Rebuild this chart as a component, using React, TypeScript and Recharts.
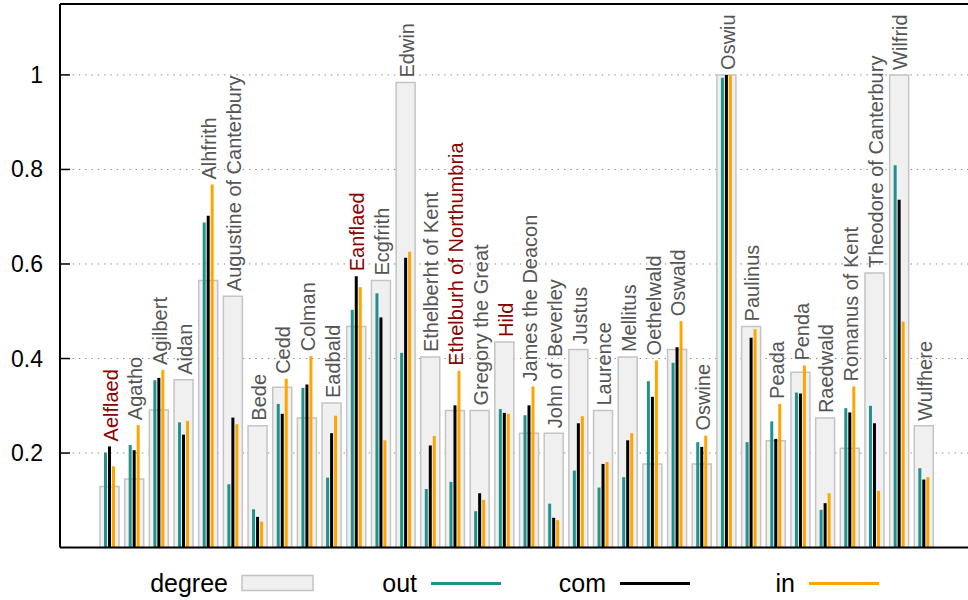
import React from 'react';
import { BarChart, Bar, XAxis, YAxis, CartesianGrid, Legend, LabelList } from 'recharts';

// Network members and their normalised centrality scores
const names = [
  'Aelflaed', 'Agatho', 'Agilbert', 'Aidan', 'Alhfrith', 'Augustine of Canterbury',
  'Bede', 'Cedd', 'Colman', 'Eadbald', 'Eanflaed', 'Ecgfrith', 'Edwin',
  'Ethelberht of Kent', 'Ethelburh of Northumbria', 'Gregory the Great', 'Hild',
  'James the Deacon', 'John of Beverley', 'Justus', 'Laurence', 'Mellitus',
  'Oethelwald', 'Oswald', 'Oswine', 'Oswiu', 'Paulinus', 'Peada', 'Penda',
  'Raedwald', 'Romanus of Kent', 'Theodore of Canterbury', 'Wilfrid', 'Wulfhere',
];

const degreeValues = [
  0.129, 0.145, 0.291, 0.355, 0.565, 0.532, 0.258, 0.339, 0.274, 0.306, 0.468, 0.565, 0.984,
  0.403, 0.290, 0.290, 0.435, 0.242, 0.242, 0.419, 0.290, 0.403, 0.177, 0.419, 0.177, 1.0,
  0.468, 0.226, 0.371, 0.274, 0.210, 0.581, 1.0, 0.258,
];

const outValues = [
  0.201, 0.217, 0.354, 0.265, 0.688, 0.134, 0.081, 0.304, 0.338, 0.148, 0.503, 0.538, 0.412,
  0.124, 0.139, 0.077, 0.293, 0.280, 0.093, 0.163, 0.127, 0.149, 0.352, 0.391, 0.223, 0.994,
  0.223, 0.267, 0.328, 0.080, 0.295, 0.300, 0.809, 0.168,
];

const comValues = [
  0.214, 0.206, 0.359, 0.239, 0.702, 0.275, 0.065, 0.283, 0.345, 0.242, 0.574, 0.487, 0.613,
  0.216, 0.301, 0.115, 0.285, 0.301, 0.063, 0.263, 0.177, 0.227, 0.319, 0.424, 0.213, 1.0,
  0.444, 0.230, 0.326, 0.094, 0.286, 0.263, 0.736, 0.144,
];

const inValues = [
  0.172, 0.259, 0.376, 0.268, 0.768, 0.261, 0.055, 0.357, 0.405, 0.279, 0.551, 0.227, 0.626,
  0.236, 0.374, 0.101, 0.283, 0.341, 0.058, 0.278, 0.181, 0.242, 0.396, 0.479, 0.237, 1.0,
  0.462, 0.304, 0.385, 0.115, 0.341, 0.120, 0.478, 0.149,
];

const highlightedNames = ['Aelflaed', 'Eanflaed', 'Ethelburh of Northumbria', 'Hild'];
const yTicks = [0.2, 0.4, 0.6, 0.8, 1];
const Y_MAX = 1.15;

const FONT = '"Liberation Sans", Arial, Helvetica, sans-serif';
const TEAL = '#20928b';
const ORANGE = '#ffa500';
const BOX_FILL = '#f0f0f0';
const BOX_STROKE = '#c4c4c4';
const LABEL_GRAY = '#555555';
const LABEL_RED = '#8b0000';

const rows = names.map((name, i) => ({
  name,
  degree: degreeValues[i],
  out: outValues[i],
  com: comValues[i],
  in: inValues[i],
  peak: Math.max(degreeValues[i], outValues[i], comValues[i], inValues[i]),
}));

const bandPadding = { left: 37, right: 37 };
const frameLine = { stroke: '#000', strokeWidth: 2 };

const LeftTick = (props: any) => {
  const { x, y, payload } = props;
  const ax = Number(x) + 17;
  const v = payload.value;
  return (
    <g>
      <line x1={ax} x2={ax + 10} y1={y} y2={y} stroke="#000" strokeWidth={1.5} />
      <text x={x} y={y} dy="0.35em" textAnchor="end" fontSize={23} fontFamily={FONT} fill="#000">
        {v === 1 ? '1' : String(v)}
      </text>
    </g>
  );
};

const RightTick = (props: any) => {
  const { x, y } = props;
  return <line x1={Number(x) - 10} x2={Number(x)} y1={y} y2={y} stroke="#000" strokeWidth={1.5} />;
};

const renderName = (props: any) => {
  const { x, y, width, value } = props;
  const cx = Number(x) + Number(width) / 2;
  const ty = Number(y) - 5;
  const color = highlightedNames.includes(value) ? LABEL_RED : LABEL_GRAY;
  return (
    <text
      x={cx}
      y={ty}
      transform={`rotate(-90 ${cx} ${ty})`}
      dy="0.41em"
      textAnchor="start"
      fontSize={20}
      fontFamily={FONT}
      fill={color}
    >
      {value}
    </text>
  );
};

const legendItems = [
  { label: 'degree', kind: 'box', color: BOX_FILL },
  { label: 'out', kind: 'line', color: TEAL },
  { label: 'com', kind: 'line', color: '#000000' },
  { label: 'in', kind: 'line', color: ORANGE },
];

const renderLegend = () => (
  <svg width={968} height={48} style={{ display: 'block' }}>
    {legendItems.map((item, i) => {
      const sx = 242 + i * 189;
      return (
        <g key={item.label}>
          <text x={sx - 14} y={43.4} textAnchor="end" fontSize={25} fontFamily={FONT} fill="#000">
            {item.label}
          </text>
          {item.kind === 'box' ? (
            <rect x={sx} y={26.5} width={71} height={15} fill={BOX_FILL} stroke={BOX_STROKE} strokeWidth={1.5} />
          ) : (
            <line x1={sx} x2={sx + 70} y1={34.4} y2={34.4} stroke={item.color} strokeWidth={3} />
          )}
        </g>
      );
    })}
  </svg>
);

export default function App() {
  return (
    <div style={{ position: 'absolute', left: 0, top: 0, width: 968, height: 600, overflow: 'hidden', background: '#fff' }}>
      <BarChart
        width={980}
        height={600}
        data={rows}
        margin={{ top: 3, right: 6, bottom: 3.4, left: 0 }}
        barGap={1}
      >
        <CartesianGrid
          xAxisId="deg"
          yAxisId="left"
          vertical={false}
          stroke="#8a8a8a"
          strokeDasharray="1.4 4.9"
        />
        <XAxis
          xAxisId="deg"
          dataKey="name"
          padding={bandPadding}
          tick={false}
          tickLine={false}
          height={1}
          axisLine={frameLine}
        />
        <XAxis
          xAxisId="top"
          dataKey="name"
          orientation="top"
          padding={bandPadding}
          tick={false}
          tickLine={false}
          height={1}
          axisLine={frameLine}
        />
        <XAxis xAxisId="thin" dataKey="name" padding={bandPadding} hide />
        <XAxis xAxisId="lab" dataKey="name" padding={bandPadding} hide />
        <YAxis
          yAxisId="left"
          type="number"
          domain={[0, Y_MAX]}
          ticks={yTicks}
          interval={0}
          width={60}
          tickSize={0}
          tickMargin={17}
          tickLine={false}
          tick={<LeftTick />}
          axisLine={frameLine}
        />
        <YAxis
          yAxisId="right"
          orientation="right"
          type="number"
          domain={[0, Y_MAX]}
          ticks={yTicks}
          interval={0}
          width={1}
          tickSize={0}
          tickMargin={0}
          tickLine={false}
          tick={<RightTick />}
          axisLine={frameLine}
        />
        <Bar
          xAxisId="deg"
          yAxisId="left"
          dataKey="degree"
          name="degree"
          barSize={19}
          fill={BOX_FILL}
          stroke={BOX_STROKE}
          strokeWidth={1.5}
          isAnimationActive={false}
        />
        <Bar xAxisId="thin" yAxisId="left" dataKey="out" name="out" barSize={3} fill={TEAL} isAnimationActive={false} />
        <Bar xAxisId="thin" yAxisId="left" dataKey="com" name="com" barSize={3} fill="#000000" isAnimationActive={false} />
        <Bar xAxisId="thin" yAxisId="left" dataKey="in" name="in" barSize={3} fill={ORANGE} isAnimationActive={false} />
        <Bar
          xAxisId="lab"
          yAxisId="left"
          dataKey="peak"
          barSize={19}
          fill="none"
          legendType="none"
          isAnimationActive={false}
        >
          <LabelList dataKey="name" content={renderName} />
        </Bar>
        <Legend
          verticalAlign="bottom"
          align="left"
          content={renderLegend}
          wrapperStyle={{ left: 0, width: 968, height: 48 }}
        />
      </BarChart>
    </div>
  );
}
